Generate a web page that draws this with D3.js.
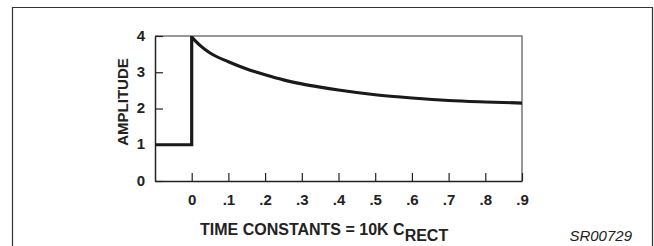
<!DOCTYPE html>
<html>
<head>
<meta charset="utf-8">
<script src="https://cdn.jsdelivr.net/npm/d3@7"></script>
<style>
  body { margin: 0; background: #fff; }
  svg text { font-family: "Liberation Sans", Arial, sans-serif; fill: #222; }
</style>
</head>
<body>
<div id="chart"></div>
<script>
/* data */
const xTicks = [0, 0.1, 0.2, 0.3, 0.4, 0.5, 0.6, 0.7, 0.8, 0.9];
const xTickLabels = ["0", ".1", ".2", ".3", ".4", ".5", ".6", ".7", ".8", ".9"];
const yTicks = [0, 1, 2, 3, 4];

// input step before t = 0
const stepT = [-0.1, 0, 0];
const stepAmp = [1, 1, 4];

// decay after the step
const decayT = [0, 0.025, 0.05, 0.1, 0.15, 0.2, 0.25, 0.3, 0.35, 0.4, 0.5, 0.6, 0.7, 0.8, 0.9];
const decayAmp = [3.97, 3.72, 3.53, 3.29, 3.09, 2.93, 2.79, 2.68, 2.59, 2.51, 2.38, 2.29, 2.22, 2.18, 2.15];

/* svg setup */
const width = 654;
const height = 246;
const plot = { left: 155, right: 522, top: 36, bottom: 181 };

const svg = d3
  .select("#chart")
  .append("svg")
  .attr("width", width)
  .attr("height", height);

// outer frame (bottom edge runs off the picture)
svg
  .append("path")
  .attr("d", "M12.5,250 V7.5 H652.5 V250")
  .attr("fill", "none")
  .attr("stroke", "#333")
  .attr("stroke-width", 1.2);

const x = d3.scaleLinear().domain([-0.1, 0.9]).range([plot.left, plot.right]);
const y = d3.scaleLinear().domain([0, 4]).range([plot.bottom, plot.top]);

/* plot box: top and right in grey */
svg
  .append("path")
  .attr("d", `M${plot.left},${plot.top} H${plot.right} V${plot.bottom}`)
  .attr("fill", "none")
  .attr("stroke", "#777")
  .attr("stroke-width", 1.5);

/*
 * X Axis
 */
svg
  .append("g")
  .attr("transform", `translate(0, ${plot.bottom})`)
  .call(
    d3
      .axisBottom(x)
      .tickValues(xTicks)
      .tickSize(-8)
      .tickSizeOuter(0)
      .tickPadding(13)
      .tickFormat((d, i) => xTickLabels[i])
  )
  .call((g) => g.select(".domain").attr("stroke", "#222").attr("stroke-width", 1.5))
  .call((g) => g.selectAll("line").attr("stroke", "#222").attr("stroke-width", 1.2))
  .selectAll("text")
  .style("font-size", "15px")
  .style("font-weight", "bold")
  .attr("fill", "#222");

/*
 * Y Axis
 */
svg
  .append("g")
  .attr("transform", `translate(${plot.left}, 0)`)
  .call(
    d3
      .axisLeft(y)
      .tickValues(yTicks)
      .tickSize(-8)
      .tickSizeOuter(0)
      .tickPadding(10)
      .tickFormat(d3.format("d"))
  )
  .call((g) => g.select(".domain").attr("stroke", "#222").attr("stroke-width", 1.5))
  .call((g) => g.selectAll("line").attr("stroke", "#222").attr("stroke-width", 1.2))
  .selectAll("text")
  .style("font-size", "15px")
  .style("font-weight", "bold")
  .attr("dy", "0.28em")
  .attr("fill", "#222");

/* response curve */
const stepLine = d3
  .line()
  .x((d, i) => x(stepT[i]))
  .y((d, i) => y(stepAmp[i]));

svg
  .append("path")
  .attr("d", stepLine(stepT))
  .attr("fill", "none")
  .attr("stroke", "#1a1a1a")
  .attr("stroke-width", 3.2)
  .attr("stroke-linejoin", "miter");

const decayLine = d3
  .line()
  .x((d, i) => x(decayT[i]))
  .y((d, i) => y(decayAmp[i]))
  .curve(d3.curveMonotoneX);

svg
  .append("path")
  .attr("d", decayLine(decayT))
  .attr("fill", "none")
  .attr("stroke", "#1a1a1a")
  .attr("stroke-width", 3.2);

/* titles */
svg
  .append("text")
  .attr("transform", `translate(128, 102) rotate(-90)`)
  .attr("text-anchor", "middle")
  .style("font-size", "15px")
  .style("font-weight", "bold")
  .text("AMPLITUDE");

const xTitle = svg
  .append("text")
  .attr("x", 200)
  .attr("y", 235)
  .style("font-size", "16px")
  .style("font-weight", "bold");
xTitle.append("tspan").text("TIME CONSTANTS = 10K C");
xTitle.append("tspan").attr("dy", 6).text("RECT");

svg
  .append("text")
  .attr("x", 632)
  .attr("y", 241)
  .attr("text-anchor", "end")
  .style("font-size", "15px")
  .style("font-style", "italic")
  .attr("fill", "#333")
  .text("SR00729");
</script>
</body>
</html>
